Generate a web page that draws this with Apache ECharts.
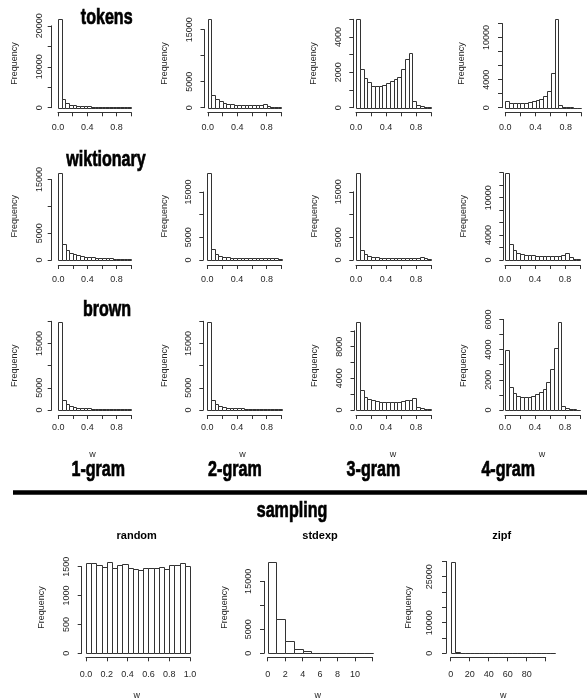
<!DOCTYPE html>
<html><head><meta charset="utf-8">
<script src="https://cdn.jsdelivr.net/npm/echarts@6/dist/echarts.min.js"></script>
<style>html,body{margin:0;padding:0;background:#fff}#c{width:587px;height:700px}</style>
</head><body><div id="c"></div>
<script>
// ---------------- DATA ----------------
const rowNames = ['tokens', 'wiktionary', 'brown'];
const colNames = ['1-gram', '2-gram', '3-gram', '4-gram'];
const sampleNames = ['random', 'stdexp', 'zipf'];
const sectionTitle = 'sampling';
const xName = 'w';
const yName = 'Frequency';

// histogram bin edges
const edges01 = [0,0.05,0.1,0.15,0.2,0.25,0.3,0.35,0.4,0.45,0.5,0.55,0.6,0.65,0.7,0.75,0.8,0.85,0.9,0.95,1];
const stdexpEdges = [0,1,2,3,4,5,6,7,8,9,10,11,12];
const zipfEdges = [0,5,10,15,20,25,30,35,40,45,50,55,60,65,70,75,80,85,90,95,100,105,110];

// counts per bin
const tokens1 = [21600,2030,1060,730,570,480,400,340,300,280,260,250,240,230,220,230,250,220,180,150];
const tokens2 = [17000,2440,1600,1220,900,770,640,580,580,560,530,520,500,500,500,790,300,200,130,100];
const tokens3 = [5000,2210,1680,1450,1250,1240,1240,1300,1390,1490,1620,1730,2210,2760,3100,380,150,100,60,40];
const tokens4 = [960,620,620,620,620,720,820,900,1100,1300,1700,2450,4950,12600,340,100,50,30,20,10];
const wiki1 = [16270,2920,1860,1370,1060,870,750,620,560,500,430,370,370,310,310,250,250,190,190,120];
const wiki2 = [19260,2430,1320,960,740,590,510,510,440,440,400,400,380,380,380,400,420,400,350,300];
const wiki3 = [19200,2200,1320,960,740,590,440,440,370,370,370,370,370,370,370,440,440,590,370,220];
const wiki4 = [14000,2530,1610,1130,910,800,750,750,700,650,650,650,650,700,700,750,1180,430,215,100];
const brown1 = [19900,2250,1280,900,680,530,450,380,350,320,300,280,260,260,250,250,260,250,230,230];
const brown2 = [19900,2250,1280,830,600,530,450,400,380,350,330,320,310,300,300,300,300,290,250,200];
const brown3 = [11150,2530,1680,1390,1260,1140,1050,970,970,970,1010,1050,1140,1220,1260,1470,400,250,150,80];
const brown4 = [3950,1550,1150,930,880,880,880,930,1060,1210,1390,1850,2690,4130,5850,290,130,70,40,20];
const randomW = [1557,1557,1534,1494,1586,1477,1534,1552,1477,1466,1448,1477,1477,1477,1500,1466,1534,1534,1557,1506];
const stdexpW = [19100,7080,2570,970,420,140,60,20,10,5,3,2];
const zipfW = [29900,320,60,25,12,8,5,3,2,2,1,1,1,1,1,0,1,0,0,1,0,1];

// tick positions and shown tick labels
const ticks01 = [0,0.2,0.4,0.6,0.8,1];
const labels01 = [0,0.4,0.8];
const randXLabels = [0,0.2,0.4,0.6,0.8,1];
const expXTicks = [0,2,4,6,8,10,12];
const expXLabels = [0,2,4,6,8,10];
const zipfXTicks = [0,20,40,60,80,100];
const zipfXLabels = [0,20,40,60,80];

const tok1YTicks = [0,5000,10000,15000,20000], tok1YLabels = [0,10000,20000];
const tok2YTicks = [0,5000,10000,15000], tok2YLabels = [0,5000,15000];
const tok3YTicks = [0,1000,2000,3000,4000,5000], tok3YLabels = [0,2000,4000];
const tok4YTicks = [0,2000,4000,6000,8000,10000,12000], tok4YLabels = [0,4000,10000];
const wik1YTicks = [0,5000,10000,15000], wik1YLabels = [0,5000,15000];
const wik2YTicks = [0,5000,10000,15000], wik2YLabels = [0,5000,15000];
const wik3YTicks = [0,5000,10000,15000], wik3YLabels = [0,5000,15000];
const wik4YTicks = [0,2000,4000,6000,8000,10000,12000,14000], wik4YLabels = [0,4000,10000];
const bro1YTicks = [0,5000,10000,15000,20000], bro1YLabels = [0,5000,15000];
const bro2YTicks = [0,5000,10000,15000,20000], bro2YLabels = [0,5000,15000];
const bro3YTicks = [0,2000,4000,6000,8000,10000], bro3YLabels = [0,4000,8000];
const bro4YTicks = [0,1000,2000,3000,4000,5000,6000], bro4YLabels = [0,2000,4000,6000];
const randYTicks = [0,500,1000,1500], randYLabels = [0,500,1000,1500];
const expYTicks = [0,5000,10000,15000], expYLabels = [0,5000,15000];
const zipfYTicks = [0,5000,10000,15000,20000,25000,30000], zipfYLabels = [0,10000,25000];

// ---------------- LAYOUT (pixels) ----------------
const rowLayout = [
  {zeroY:107.7, barTopY:19.3, axisY:112.3, xLabGap:11, titleY:17.7},
  {zeroY:260, barTopY:172.7, axisY:265, xLabGap:10.5, titleY:160.2},
  {zeroY:410, barTopY:321.7, axisY:415, xLabGap:8, titleY:309.7}
];
// [axisX, x at first tick, x at last tick, Frequency x, y label gap]
const colLayout = [
  [[51.7,58,131,15,7.2],[204.5,207.8,281.3,165,10.5],[353.3,356,431,313.3,10.5],[502,505.3,581,462,10.5]],
  [[51.7,58.3,131,15,7.2],[203.3,207.3,281.5,165,10.5],[353.3,356,431,315,10.5],[503.3,505,580,463.3,10.5]],
  [[51.7,58.3,131,15,7.2],[203.3,207.3,281.5,165,10.5],[354.5,356,431,315,10.5],[503.3,505,580,463.3,10.5]]
];
const bottomRow = {zeroY:653.3, barTopY:561.7, axisY:657.3, xLabGap:12.5};
const bottomCols = [[81.7,86,190,41.7,10.5],[264,267.7,372.5,225,11],[446,450.7,545.7,408.3,11.5]];

const topData = [
  [[tokens1,tok1YTicks,tok1YLabels],[tokens2,tok2YTicks,tok2YLabels],[tokens3,tok3YTicks,tok3YLabels],[tokens4,tok4YTicks,tok4YLabels]],
  [[wiki1,wik1YTicks,wik1YLabels],[wiki2,wik2YTicks,wik2YLabels],[wiki3,wik3YTicks,wik3YLabels],[wiki4,wik4YTicks,wik4YLabels]],
  [[brown1,bro1YTicks,bro1YLabels],[brown2,bro2YTicks,bro2YLabels],[brown3,bro3YTicks,bro3YLabels],[brown4,bro4YTicks,bro4YLabels]]
];
const bottomData = [
  [randomW, edges01, ticks01, randXLabels, 1, randYTicks, randYLabels],
  [stdexpW, stdexpEdges, expXTicks, expXLabels, 0, expYTicks, expYLabels],
  [zipfW, zipfEdges, zipfXTicks, zipfXLabels, 0, zipfYTicks, zipfYLabels]
];

const INK = '#333';
const TXT = '#262626';
const BASE_FONT = "'Liberation Sans', Arial, Helvetica, sans-serif";
const TITLE_FONT = "'Liberation Sans Narrow', 'Liberation Sans', Arial, sans-serif";
const TITLE_SCALE_X = 0.73;

const grids = [], xAxes = [], yAxes = [], series = [], graphics = [];

function addPanel(values, edges, xTicks, xLabels, dec, yTicks, yLabels, row, col) {
  const idx = grids.length;
  const [axisX, x0, x1, freqX, yGap] = col;
  const maxV = Math.max.apply(null, values);
  const scale = (row.zeroY - row.barTopY) / maxV;
  const yMax = yTicks[yTicks.length - 1];
  grids.push({left: x0, width: x1 - x0, top: row.zeroY - yMax * scale, height: yMax * scale,
              containLabel: false, outerBoundsMode: 'none'});
  xAxes.push({
    gridIndex: idx, type: 'value', min: xTicks[0], max: xTicks[xTicks.length - 1],
    position: 'bottom', offset: row.axisY - row.zeroY,
    axisLine: {show: true, onZero: false, lineStyle: {color: INK, width: 1}},
    axisTick: {show: true, customValues: xTicks, length: 4, lineStyle: {color: INK, width: 1}},
    axisLabel: {show: true, customValues: xLabels, margin: row.xLabGap, fontSize: 9, color: TXT,
                fontFamily: BASE_FONT, formatter: v => Number(v).toFixed(dec)},
    splitLine: {show: false}
  });
  yAxes.push({
    gridIndex: idx, type: 'value', min: 0, max: yMax, position: 'left', offset: x0 - axisX,
    axisLine: {show: true, onZero: false, lineStyle: {color: INK, width: 1}},
    axisTick: {show: true, customValues: yTicks, length: 4, lineStyle: {color: INK, width: 1}},
    axisLabel: {show: true, customValues: yLabels, rotate: 90, margin: yGap, fontSize: 9, color: TXT,
                fontFamily: BASE_FONT, formatter: v => String(v)},
    splitLine: {show: false}
  });
  series.push({
    type: 'custom', xAxisIndex: idx, yAxisIndex: idx, clip: false, silent: true,
    encode: {x: [0, 1], y: 2},
    data: values.map((c, k) => [edges[k], edges[k + 1], c]),
    renderItem: function (params, api) {
      const p0 = api.coord([api.value(0), api.value(2)]);
      const p1 = api.coord([api.value(1), 0]);
      const xa = Math.round(p0[0]) + 0.5, xb = Math.round(p1[0]) + 0.5;
      const ya = Math.round(p0[1]) + 0.5, yb = Math.round(p1[1]) + 0.5;
      return {type: 'rect', shape: {x: xa, y: ya, width: xb - xa, height: yb - ya},
              style: {fill: '#fff', stroke: INK, lineWidth: 1}};
    }
  });
  graphics.push({type: 'text', x: freqX, y: row.zeroY - 0.5 * maxV * scale, rotation: Math.PI / 2,
    style: {text: yName, fill: TXT, font: '9px ' + BASE_FONT, textAlign: 'center', textVerticalAlign: 'middle'}});
}

for (let r = 0; r < 3; r++) {
  for (let c = 0; c < 4; c++) {
    const d = topData[r][c];
    addPanel(d[0], edges01, ticks01, labels01, 1, d[1], d[2], rowLayout[r], colLayout[r][c]);
  }
}
for (let c = 0; c < 3; c++) {
  const d = bottomData[c];
  addPanel(d[0], d[1], d[2], d[3], d[4], d[5], d[6], bottomRow, bottomCols[c]);
}

function txt(t, x, y, size, weight, family, color, sx, strokeW) {
  const style = {text: t, fill: color || '#000', font: (weight || 'normal') + ' ' + size + 'px ' + family,
                 textAlign: 'center', textVerticalAlign: 'middle'};
  if (strokeW) { style.stroke = color || '#000'; style.lineWidth = strokeW; }
  graphics.push({type: 'text', x: x, y: y, scaleX: sx || 1, style: style});
}
const rowTitleX = [106.7, 106, 107];
rowNames.forEach((n, i) => txt(n, rowTitleX[i], rowLayout[i].titleY, 22, 'bold', TITLE_FONT, '#000', TITLE_SCALE_X, 0.7));
const wX = [92.5, 242.6, 393, 542.1];
wX.forEach(x => txt(xName, x, 454.5, 9, 'normal', BASE_FONT, TXT));
const colLabelX = [98.3, 234.9, 373.4, 508.2];
colNames.forEach((n, i) => txt(n, colLabelX[i], 469.7, 22, 'bold', TITLE_FONT, '#000', TITLE_SCALE_X, 0.7));
graphics.push({type: 'line', shape: {x1: 13, y1: 492.4, x2: 587, y2: 492.4}, style: {stroke: '#000', lineWidth: 4.5}});
txt(sectionTitle, 292, 510.5, 22, 'bold', TITLE_FONT, '#000', TITLE_SCALE_X, 0.7);
const sampTitleX = [136.7, 320, 501.7];
sampleNames.forEach((n, i) => txt(n, sampTitleX[i], 536, 11, 'bold', BASE_FONT));
const sampWX = [136.7, 317.7, 503.3];
sampWX.forEach(x => txt(xName, x, 696, 9, 'normal', BASE_FONT, TXT));

const chart = echarts.init(document.getElementById('c'), null, {renderer: 'canvas'});
chart.setOption({
  animation: false,
  backgroundColor: '#fff',
  grid: grids, xAxis: xAxes, yAxis: yAxes, series: series,
  graphic: {elements: graphics}
});
</script>
</body></html>
